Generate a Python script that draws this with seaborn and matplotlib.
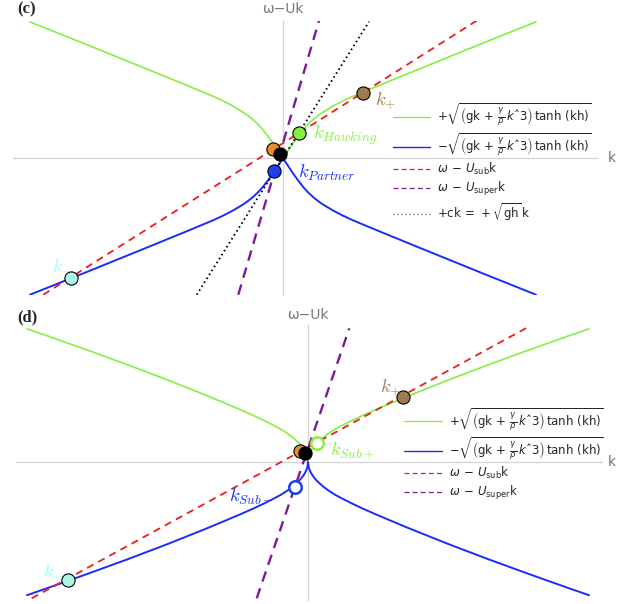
import numpy as np
import pandas as pd
import seaborn as sns
import matplotlib.pyplot as plt
from matplotlib.lines import Line2D

sns.set_style('white')
plt.rcParams['font.family'] = ['DejaVu Sans']
plt.rcParams['mathtext.fontset'] = 'dejavusans'

# Rama k >= 0 de la dispersión |omega - Uk| (unidades arbitrarias)
k_c = [0, 0.05, 0.10, 0.15, 0.20, 0.25, 0.30, 0.35, 0.40, 0.50, 0.60, 0.70, 0.80, 1.00, 1.33, 1.67, 2.00, 2.33, 2.53]
w_c = [0, 0.075, 0.15, 0.22, 0.285, 0.34, 0.387, 0.427, 0.462, 0.522, 0.574, 0.62, 0.662, 0.745, 0.88, 1.018, 1.152, 1.284, 1.364]
k_d = [0, 0.005, 0.015, 0.03, 0.05, 0.075, 0.10, 0.15, 0.20, 0.27, 0.35, 0.45, 0.55, 0.67, 0.80, 0.95, 1.0, 1.4, 1.8, 2.2, 2.6, 2.81]
w_d = [0, 0.045, 0.077, 0.109, 0.141, 0.172, 0.199, 0.244, 0.282, 0.327, 0.37, 0.42, 0.467, 0.52, 0.575, 0.638, 0.659, 0.819, 0.971, 1.117, 1.259, 1.332]

# Rectas omega - U k (extremos leídos)
sub_c_k = [-2.397, 1.937]
sub_c_w = [-1.364, 1.376]
super_c_k = [-0.447, 0.36]
super_c_w = [-1.364, 1.376]
ck_c_k = [-0.863, 0.86]
ck_c_w = [-1.364, 1.366]
sub_d_k = [-2.763, 2.22]
sub_d_w = [-1.363, 1.36]
super_d_k = [-0.513, 0.413]
super_d_w = [-1.363, 1.337]

# Puntos marcados
pts_c = {
    'kminus': (-2.12, -1.194), 'orange': (-0.097, 0.09), 'black': (-0.03, 0.043),
    'partner': (-0.09, -0.124), 'hawking': (0.16, 0.25), 'kplus': (0.803, 0.656),
}
pts_d = {
    'kminus': (-2.403, -1.18), 'orange': (-0.08, 0.113), 'black': (-0.03, 0.087),
    'subplus': (0.087, 0.193), 'subminus': (-0.13, -0.253), 'kplus': (0.953, 0.647),
}

GREEN = '#88ee44'
BLUE = '#1a2cff'
RED = '#ee1c1c'
PURPLE = '#7d1a96'
CYAN = '#a8f7e8'
BROWN = '#a07c4e'
ORANGE = '#e0902c'

lab_plus = r'$+\sqrt{\left(\mathrm{gk}\,+\,\frac{\gamma}{\rho}\,k\mathrm{ˆ3}\right)\,\mathrm{tanh\ (kh)}}$'
lab_minus = r'$-\sqrt{\left(\mathrm{gk}\,+\,\frac{\gamma}{\rho}\,k\mathrm{ˆ3}\right)\,\mathrm{tanh\ (kh)}}$'
lab_sub = r'$\omega\,-\,U_{\mathrm{sub}}\mathrm{k}$'
lab_super = r'$\omega\,-\,U_{\mathrm{super}}\mathrm{k}$'
lab_ck = r'$+\mathrm{ck}\,=\,+\sqrt{\mathrm{gh}}\,\mathrm{k}$'

# manijas finas para la leyenda
h_plus = Line2D([], [], color=GREEN, lw=1.0)
h_minus = Line2D([], [], color=BLUE, lw=1.0)
h_sub = Line2D([], [], color=RED, lw=0.9, dashes=(4, 2.5))
h_super = Line2D([], [], color=PURPLE, lw=0.9, dashes=(4, 2.5))
h_ck = Line2D([], [], color='#555555', lw=0.9, dashes=(1, 2.2))


def branches(ax, k, w):
    k = np.array(k)
    w = np.array(w)
    kk = np.concatenate([-k[::-1], k])
    ww = np.concatenate([w[::-1], w])
    sns.lineplot(x=kk, y=ww, sort=False, estimator=None, color=GREEN, lw=1.2, ax=ax)
    sns.lineplot(x=kk, y=-ww, sort=False, estimator=None, color=BLUE, lw=1.4, ax=ax)


def setup(ax, xlim, ylim, label_k, label_w):
    ax.set_xlim(*xlim)
    ax.set_ylim(*ylim)
    for s in ['top', 'right']:
        ax.spines[s].set_visible(False)
    for s in ['left', 'bottom']:
        ax.spines[s].set_position('zero')
        ax.spines[s].set_color('#d4d4d4')
        ax.spines[s].set_linewidth(0.9)
        ax.spines[s].set_zorder(0)
    ax.set_xticks([])
    ax.set_yticks([])
    ax.set_xlabel('')
    ax.set_ylabel('')
    ax.text(label_k[0], label_k[1], 'k', color='#777777', fontsize=10, ha='center', va='center', clip_on=False)
    ax.text(label_w[0], label_w[1], 'ω−Uk', color='#777777', fontsize=10, ha='center', va='center', clip_on=False)


def dot(ax, p, face, edge='black', lw=0.8, z=5, size=9.5):
    ax.plot([p[0]], [p[1]], 'o', ms=size, mfc=face, mec=edge, mew=lw, zorder=z, clip_on=False)


def label(ax, x, y, s, color, ha='left'):
    ax.text(x, y, s, color=color, fontsize=13.5, ha=ha, va='center', math_fontfamily='cm')


leg_kw = dict(loc='upper left', frameon=False, fontsize=8.5, handlelength=3.2,
              handletextpad=0.6, labelspacing=0.25, borderpad=0, borderaxespad=0)

fig = plt.figure(figsize=(6.33, 6.04), dpi=100)
ax_c = fig.add_axes([13 / 633, 1 - 295 / 604, 584 / 633, 274.3 / 604])
ax_d = fig.add_axes([16 / 633, 1 - 600 / 604, 586 / 633, 275 / 604])

# ---- panel (c)
branches(ax_c, k_c, w_c)
ax_c.plot(sub_c_k, sub_c_w, color=RED, lw=1.3, dashes=(4, 3))
ax_c.plot(super_c_k, super_c_w, color=PURPLE, lw=1.7, dashes=(4.5, 3))
ax_c.plot(ck_c_k, ck_c_w, color='black', lw=1.4, dashes=(0.8, 1.6))
setup(ax_c, (-2.70, 3.14), (-1.367, 1.376), (3.29, 0), (0, 1.49))

dot(ax_c, pts_c['kminus'], CYAN)
dot(ax_c, pts_c['orange'], ORANGE)
dot(ax_c, pts_c['black'], 'black', z=6)
dot(ax_c, pts_c['partner'], '#2040f0')
dot(ax_c, pts_c['hawking'], GREEN)
dot(ax_c, pts_c['kplus'], BROWN)
label(ax_c, -2.21, -1.05, r'$k_{-}$', '#99ffff', ha='center')
label(ax_c, 0.30, 0.23, r'$k_{Hawking}$', GREEN)
label(ax_c, 0.15, -0.15, r'$k_{Partner}$', BLUE)
label(ax_c, 0.92, 0.57, r'$k_{+}$', BROWN)

ax_c.legend([h_plus, h_minus, h_sub, h_super, h_ck], [lab_plus, lab_minus, lab_sub, lab_super, lab_ck],
            bbox_to_anchor=(0.650, 0.704), **leg_kw)

# ---- panel (d)
branches(ax_d, k_d, w_d)
ax_d.plot(sub_d_k, sub_d_w, color=RED, lw=1.3, dashes=(4, 3))
ax_d.plot(super_d_k, super_d_w, color=PURPLE, lw=1.7, dashes=(4.5, 3))
setup(ax_d, (-2.92, 2.94), (-1.38, 1.37), (3.04, 0), (0, 1.47))

dot(ax_d, pts_d['kminus'], CYAN)
dot(ax_d, pts_d['orange'], ORANGE)
dot(ax_d, pts_d['black'], 'black', z=6)
dot(ax_d, pts_d['subplus'], 'white', edge=GREEN, lw=1.8, size=9)
dot(ax_d, pts_d['subminus'], 'white', edge='#2040f0', lw=1.8, size=9)
dot(ax_d, pts_d['kplus'], BROWN)
label(ax_d, -2.65, -1.07, r'$k_{-}$', '#99ffff')
label(ax_d, 0.22, 0.11, r'$k_{Sub+}$', GREEN)
label(ax_d, -0.35, -0.35, r'$k_{Sub-}$', BLUE, ha='right')
label(ax_d, 0.72, 0.74, r'$k_{+}$', BROWN)

ax_d.legend([h_plus, h_minus, h_sub, h_super], [lab_plus, lab_minus, lab_sub, lab_super],
            bbox_to_anchor=(0.662, 0.705), **leg_kw)

fig.text(17 / 633, 1 - 9 / 604, '(c)', fontsize=12, fontweight='bold', family='Liberation Serif', va='center')
fig.text(17 / 633, 1 - 317 / 604, '(d)', fontsize=12, fontweight='bold', family='Liberation Serif', va='center')

fig.savefig('out.png', dpi=100)
